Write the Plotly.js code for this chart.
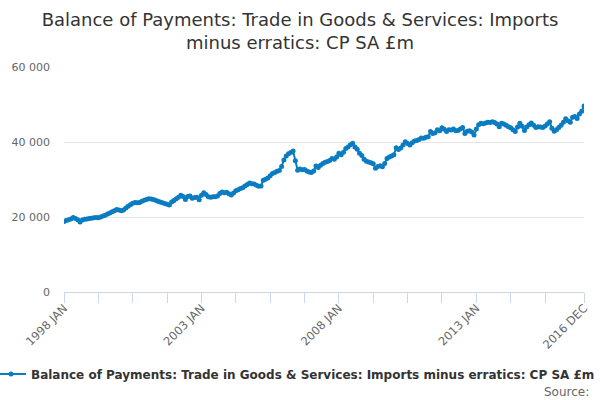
<!DOCTYPE html>
<html>
<head>
<meta charset="utf-8">
<script src="https://cdn.plot.ly/plotly-3.0.1.min.js"></script>
<style>
  body { margin: 0; background: #fff; }
  #chart { width: 600px; height: 400px; }
</style>
</head>
<body>
<div id="chart"></div>
<script>
// Imports minus erratics, CP SA, £m, monthly 1998 JAN - 2016 DEC
const years = [1998, 1999, 2000, 2001, 2002, 2003, 2004, 2005, 2006, 2007,
  2008, 2009, 2010, 2011, 2012, 2013, 2014, 2015, 2016];
const monthNames = ['JAN', 'FEB', 'MAR', 'APR', 'MAY', 'JUN', 'JUL', 'AUG', 'SEP', 'OCT', 'NOV', 'DEC'];

const imports = [
  18800, 19100, 19300, 19500, 19900, 19600, 19300, 18700, 19200, 19400, 19500, 19600, // 1998
  19700, 19800, 19900, 19800, 20000, 20300, 20500, 20800, 21100, 21400, 21700, 22000, // 1999
  21900, 21700, 21900, 22400, 22900, 23300, 23700, 23900, 23800, 23900, 24200, 24500, // 2000
  24700, 24900, 24800, 24700, 24500, 24200, 24000, 23800, 23600, 23400, 23200, 24000, // 2001
  24400, 24900, 25300, 25800, 25500, 24700, 25500, 25600, 25000, 25200, 25300, 24600, // 2002
  25800, 26500, 26000, 25400, 25300, 25400, 25400, 25600, 26300, 26700, 26500, 26600, // 2003
  26200, 25900, 26400, 27000, 27300, 27600, 27800, 28300, 28700, 29100, 28900, 28800, // 2004
  28500, 28200, 28300, 29800, 30100, 30400, 31000, 31600, 31900, 32200, 32400, 33500, // 2005
  35200, 36300, 36900, 37200, 37600, 35000, 32500, 32800, 32600, 32700, 32300, 32000, // 2006
  31900, 32300, 33600, 33200, 33800, 34300, 34600, 34800, 35100, 35600, 35400, 36000, // 2007
  37000, 36600, 37300, 38300, 38700, 39300, 39700, 38700, 38100, 37000, 36400, 35400, // 2008
  34900, 34700, 34500, 34200, 33000, 33500, 33700, 33400, 34300, 35600, 36000, 36300, // 2009
  36600, 38500, 38000, 38400, 39200, 40100, 39600, 39200, 39800, 40300, 40400, 40700, // 2010
  41100, 41000, 41300, 41400, 42800, 42300, 42500, 43300, 43000, 43800, 43400, 42800, // 2011
  43300, 43200, 43500, 43000, 43100, 43500, 43900, 42300, 42900, 43000, 42700, 41900, // 2012
  43500, 44600, 45000, 44900, 45100, 45300, 45200, 45400, 45200, 44800, 44100, 45000, // 2013
  44800, 44500, 44100, 43800, 43300, 42800, 44000, 45000, 44200, 43100, 44000, 44600, // 2014
  45100, 44500, 43900, 44100, 44000, 43900, 44300, 44800, 45400, 43700, 42900, 43300, // 2015
  43900, 44500, 45300, 46200, 45700, 45300, 46600, 46800, 46300, 47500, 48200, 49600  // 2016
];

const periods = [];
years.forEach((y) => monthNames.forEach((m) => periods.push(y + ' ' + m)));

// tick marks every 15 months plus the last month; only some carry a label
const tickIdx = [0, 15, 30, 45, 60, 75, 90, 105, 120, 135, 150, 165, 180, 195, 210, 227];
const labelled = ['1998 JAN', '2003 JAN', '2008 JAN', '2013 JAN', '2016 DEC'];

const tickVals = tickIdx.map((i) => periods[i]);
const tickText = tickVals.map((p) => (labelled.includes(p) ? p : ''));

const seriesName = 'Balance of Payments: Trade in Goods & Services: Imports minus erratics: CP SA £m';
const blue = '#0a7cc1';
const font = 'DejaVu Sans, sans-serif';

const data = [{
  type: 'scatter',
  mode: 'lines+markers',
  name: seriesName,
  x: periods,
  y: imports,
  line: { color: blue, width: 2 },
  marker: { color: blue, size: 5 }
}];

const layout = {
  width: 600,
  height: 400,
  paper_bgcolor: '#fff',
  plot_bgcolor: '#fff',
  font: { family: font, color: '#666', size: 11 },
  separators: '. ',
  title: {
    text: 'Balance of Payments: Trade in Goods & Services: Imports<br>minus erratics: CP SA £m',
    font: { family: font, size: 18, color: '#333' },
    x: 0.5,
    xanchor: 'center',
    y: 0.935,
    yanchor: 'top'
  },
  margin: { l: 64, r: 16, t: 67, b: 108 },
  xaxis: {
    type: 'category',
    range: [0, periods.length - 1],
    tickmode: 'array',
    tickvals: tickVals,
    ticktext: tickText,
    tickangle: -45,
    ticks: 'outside',
    ticklen: 10,
    tickcolor: '#ccd6eb',
    showline: true,
    linecolor: '#ccd6eb',
    linewidth: 1,
    showgrid: false,
    zeroline: false,
    ticklabelstandoff: -6,
    tickfont: { family: font, size: 11.5, color: '#666' }
  },
  yaxis: {
    range: [0, 60000],
    tickvals: [0, 20000, 40000, 60000],
    tickformat: ',d',
    showgrid: true,
    gridcolor: '#e6e6e6',
    zeroline: false,
    showline: false,
    ticks: '',
    ticklabelstandoff: 13,
    tickfont: { family: font, size: 11, color: '#666' }
  },
  showlegend: true,
  legend: {
    orientation: 'h',
    xref: 'paper',
    yref: 'container',
    x: -0.181,
    xanchor: 'left',
    y: 0.065,
    yanchor: 'middle',
    font: { family: font, size: 12, color: '#333', weight: 'bold' }
  },
  annotations: [{
    text: 'Source:',
    xref: 'paper',
    yref: 'paper',
    x: 1.013,
    y: -0.445,
    xanchor: 'right',
    yanchor: 'middle',
    showarrow: false,
    font: { family: font, size: 12, color: '#666' }
  }]
};

Plotly.newPlot('chart', data, layout, { displayModeBar: false, responsive: false });
</script>
</body>
</html>
